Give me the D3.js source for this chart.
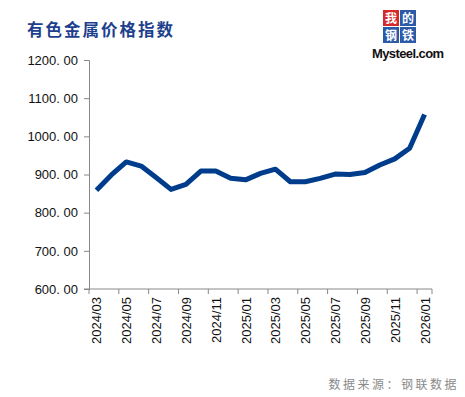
<!DOCTYPE html>
<html>
<head>
<meta charset="utf-8">
<script src="https://cdn.jsdelivr.net/npm/d3@7"></script>
<style>
  body { margin: 0; background: #fff; }
  svg { display: block; }
</style>
</head>
<body>
<div id="chart"></div>
<script>
const months = [
  '2024/03', '2024/04', '2024/05', '2024/06', '2024/07', '2024/08', '2024/09', '2024/10',
  '2024/11', '2024/12', '2025/01', '2025/02', '2025/03', '2025/04', '2025/05', '2025/06',
  '2025/07', '2025/08', '2025/09', '2025/10', '2025/11', '2025/12', '2026/01',
];
const indexValues = [
  859, 899, 933, 922, 892, 861, 874, 909, 909, 890, 886, 903,
  914, 881, 881, 890, 901, 900, 905, 925, 941, 969, 1057,
];
const yTicks = [600, 700, 800, 900, 1000, 1100, 1200];
const title = '有色金属价格指数';
const source = '数据来源：钢联数据';

const width = 465;
const height = 397;
const margin = { t: 60, r: 33, b: 108, l: 89 };

const svg = d3.select('#chart')
  .append('svg')
  .attr('width', width)
  .attr('height', height);

const x = d3.scaleBand()
  .domain(months)
  .range([margin.l, width - margin.r])
  .padding(0);

const y = d3.scaleLinear()
  .domain([600, 1200])
  .range([height - margin.b, margin.t]);

// title
svg.append('text')
  .attr('x', 27)
  .attr('y', 36)
  .style('font-family', '"Noto Sans CJK SC", sans-serif')
  .style('font-weight', 700)
  .style('font-size', '16.5px')
  .style('letter-spacing', '2px')
  .style('fill', '#1d3f8e')
  .text(title);

// logo
const logo = svg.append('g').attr('transform', 'translate(383, 10)');
const logoCells = [
  { c: '我', fill: '#d42a2a', dx: 0, dy: 0 },
  { c: '的', fill: '#2b5aa8', dx: 17, dy: 0 },
  { c: '钢', fill: '#2b5aa8', dx: 0, dy: 17 },
  { c: '铁', fill: '#2b5aa8', dx: 17, dy: 17 },
];
logoCells.forEach((d) => {
  logo.append('rect')
    .attr('x', d.dx)
    .attr('y', d.dy)
    .attr('width', 16)
    .attr('height', 16)
    .style('fill', d.fill);
  logo.append('text')
    .attr('x', d.dx + 8)
    .attr('y', d.dy + 12.5)
    .attr('text-anchor', 'middle')
    .style('font-family', '"Noto Sans CJK SC", sans-serif')
    .style('font-weight', 700)
    .style('font-size', '12px')
    .style('fill', '#fff')
    .text(d.c);
});
svg.append('text')
  .attr('x', 372)
  .attr('y', 58)
  .style('font-family', '"Liberation Sans", Arial, sans-serif')
  .style('font-weight', 700)
  .style('font-size', '13px')
  .style('letter-spacing', '-0.6px')
  .style('fill', '#111')
  .text('Mysteel.com');

// y axis
const yAxis = svg.append('g')
  .attr('transform', `translate(${margin.l}, 0)`)
  .call(d3.axisLeft(y).tickValues(yTicks).tickSize(5).tickFormat((d) => d3.format('.2f')(d).replace('.', '. ')));
yAxis.select('.domain').style('stroke', '#888');
yAxis.selectAll('.tick line').style('stroke', '#888');
yAxis.selectAll('.tick text')
  .attr('x', -11)
  .style('font-family', '"Liberation Sans", Arial, sans-serif')
  .style('font-size', '13px')
  .style('fill', '#111');

// x axis, ticks on category boundaries every two months
const boundaries = months.filter((m, i) => i % 2 === 0);
const xAxisG = svg.append('g')
  .attr('transform', `translate(0, ${height - margin.b})`);
xAxisG.append('line')
  .attr('x1', margin.l - 5)
  .attr('x2', width - margin.r)
  .style('stroke', '#888');
xAxisG.selectAll('.xtick')
  .data(boundaries)
  .enter()
  .append('line')
  .attr('x1', (d) => x(d))
  .attr('x2', (d) => x(d))
  .attr('y1', 0)
  .attr('y2', 5)
  .style('stroke', '#888');
xAxisG.append('line')
  .attr('x1', width - margin.r)
  .attr('x2', width - margin.r)
  .attr('y1', 0)
  .attr('y2', 5)
  .style('stroke', '#888');
xAxisG.selectAll('.xlabel')
  .data(boundaries)
  .enter()
  .append('text')
  .attr('transform', (d) => `translate(${x(d) + x.bandwidth() / 2 + 5}, 8) rotate(-90)`)
  .attr('text-anchor', 'end')
  .style('font-family', '"Liberation Sans", Arial, sans-serif')
  .style('font-size', '13px')
  .style('fill', '#111')
  .text((d) => d);

// line
const line = d3.line()
  .x((d, i) => x(months[i]) + x.bandwidth() / 2)
  .y((d) => y(d));
svg.append('path')
  .datum(indexValues)
  .attr('d', line)
  .style('fill', 'none')
  .style('stroke', '#003c8c')
  .style('stroke-width', 5)
  .style('stroke-linejoin', 'round');

// source
svg.append('text')
  .attr('x', 459)
  .attr('y', 389)
  .attr('text-anchor', 'end')
  .style('font-family', '"Noto Sans CJK SC", sans-serif')
  .style('font-size', '12px')
  .style('letter-spacing', '2.5px')
  .style('fill', '#8a8a8a')
  .text(source);
</script>
</body>
</html>
